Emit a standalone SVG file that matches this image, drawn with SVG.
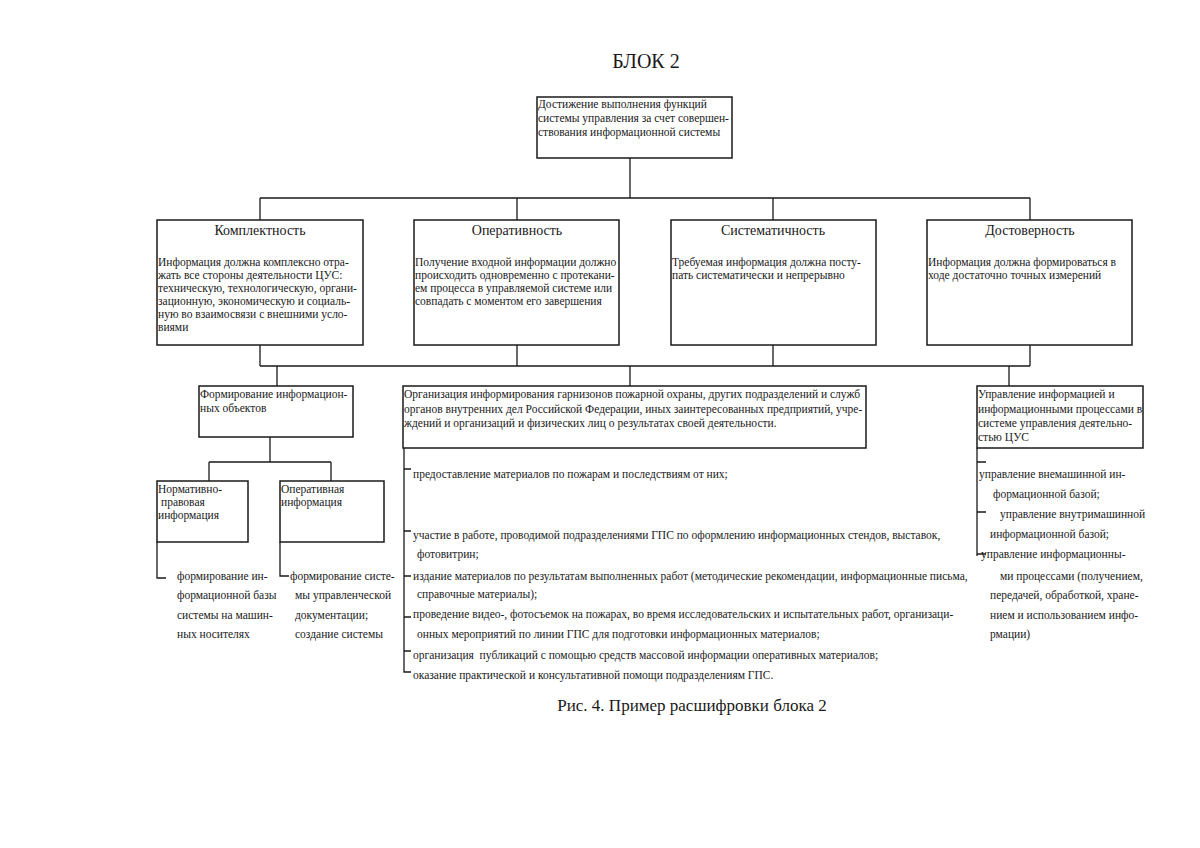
<svg xmlns="http://www.w3.org/2000/svg" width="1200" height="848" viewBox="0 0 1200 848">
<style>
.box{fill:#fff;stroke:#1a1a1a;stroke-width:1.5}
.ln{stroke:#1a1a1a;stroke-width:1.3;fill:none}
text{font-family:"Liberation Serif","Times New Roman",serif;fill:#1a1a1a}
.s{font-size:11.5px}
.l{font-size:11.5px}
.h{font-size:14px;text-anchor:middle}
</style>
<rect width="1200" height="848" fill="#fff"/>
<text x="646" y="68" style="font-size:20px;text-anchor:middle">БЛОК 2</text>

<g id="connectors">
<path class="ln" d="M630 158V198M260 198H1030M260 198V220M517 198V220M773 198V220M1030 198V220"/>
<path class="ln" d="M260 345V366M517 345V366M773 345V366M1030 345V366M260 366H1030M277 366V386M630 366V386M1009 366V386"/>
<path class="ln" d="M270 437V462M209 462H331M209 462V481M331 462V481"/>
<path class="ln" d="M157 542V578H166M280 542V576H289"/>
<path class="ln" d="M404 448V672H411M404 469H411M404 531H411M404 576H411M404 617H411M404 651H411"/>
<path class="ln" d="M977 448V556M977 462H986M977 512H986M977 554H986"/>
</g>

<g id="n-top">
<rect class="box" x="537" y="97" width="195" height="61"/>
<text class="s" x="538" y="108">Достижение выполнения функций</text>
<text class="s" x="538" y="122">системы управления за счет совершен-</text>
<text class="s" x="538" y="136">ствования информационной системы</text>
</g>

<g id="n-kompl">
<rect class="box" x="157" y="220" width="206" height="125"/>
<text class="h" x="260" y="235">Комплектность</text>
<text class="s" x="158" y="266">Информация должна комплексно отра-</text>
<text class="s" x="158" y="279">жать все стороны деятельности ЦУС:</text>
<text class="s" x="158" y="292">техническую, технологическую, органи-</text>
<text class="s" x="158" y="305">зационную, экономическую и социаль-</text>
<text class="s" x="158" y="318">ную во взаимосвязи с внешними усло-</text>
<text class="s" x="158" y="331">виями</text>
</g>

<g id="n-oper">
<rect class="box" x="414" y="220" width="205" height="125"/>
<text class="h" x="517" y="235">Оперативность</text>
<text class="s" x="415" y="266">Получение входной информации должно</text>
<text class="s" x="415" y="279">происходить одновременно с протекани-</text>
<text class="s" x="415" y="292">ем процесса в управляемой системе или</text>
<text class="s" x="415" y="305">совпадать с моментом его завершения</text>
</g>

<g id="n-sist">
<rect class="box" x="671" y="220" width="205" height="125"/>
<text class="h" x="773" y="235">Систематичность</text>
<text class="s" x="672" y="266">Требуемая информация должна посту-</text>
<text class="s" x="672" y="279">пать систематически и непрерывно</text>
</g>

<g id="n-dost">
<rect class="box" x="927" y="220" width="205" height="125"/>
<text class="h" x="1030" y="235">Достоверность</text>
<text class="s" x="928" y="266">Информация должна формироваться в</text>
<text class="s" x="928" y="279">ходе достаточно точных измерений</text>
</g>

<g id="n-form">
<rect class="box" x="199" y="386" width="154" height="51"/>
<text class="s" x="200" y="398">Формирование информацион-</text>
<text class="s" x="200" y="412">ных объектов</text>
</g>

<g id="n-norm">
<rect class="box" x="157" y="481" width="91" height="61"/>
<text class="s" x="158" y="493">Нормативно-</text>
<text class="s" x="161" y="506">правовая</text>
<text class="s" x="158" y="519">информация</text>
<text class="l" x="177" y="580">формирование ин-</text>
<text class="l" x="177" y="599">формационной базы</text>
<text class="l" x="177" y="619">системы на машин-</text>
<text class="l" x="177" y="638">ных носителях</text>
</g>

<g id="n-operinf">
<rect class="box" x="280" y="481" width="104" height="61"/>
<text class="s" x="281" y="493">Оперативная</text>
<text class="s" x="281" y="506">информация</text>
<text class="l" x="290" y="580">формирование систе-</text>
<text class="l" x="295" y="599">мы управленческой</text>
<text class="l" x="295" y="619">документации;</text>
<text class="l" x="295" y="638">создание системы</text>
</g>

<g id="n-org">
<rect class="box" x="403" y="386" width="463" height="62"/>
<text class="s" x="404" y="398">Организация информирования гарнизонов пожарной охраны, других подразделений и служб</text>
<text class="s" x="404" y="413">органов внутренних дел Российской Федерации, иных заинтересованных предприятий, учре-</text>
<text class="s" x="404" y="427">ждений и организаций и физических лиц о результатах своей деятельности.</text>
<text class="l" x="413" y="478">предоставление материалов по пожарам и последствиям от них;</text>
<text class="l" x="413" y="539">участие в работе, проводимой подразделениями ГПС по оформлению информационных стендов, выставок,</text>
<text class="l" x="417" y="558">фотовитрин;</text>
<text class="l" x="413" y="580">издание материалов по результатам выполненных работ (методические рекомендации, информационные письма,</text>
<text class="l" x="417" y="598">справочные материалы);</text>
<text class="l" x="413" y="618">проведение видео-, фотосъемок на пожарах, во время исследовательских и испытательных работ, организаци-</text>
<text class="l" x="417" y="638">онных мероприятий по линии ГПС для подготовки информационных материалов;</text>
<text class="l" x="413" y="659" xml:space="preserve">организация  публикаций с помощью средств массовой информации оперативных материалов;</text>
<text class="l" x="413" y="679">оказание практической и консультативной помощи подразделениям ГПС.</text>
</g>

<g id="n-upr">
<rect class="box" x="977" y="386" width="166" height="62"/>
<text class="s" x="978" y="398">Управление информацией и</text>
<text class="s" x="978" y="413">информационными процессами в</text>
<text class="s" x="978" y="427">системе управления деятельно-</text>
<text class="s" x="978" y="441">стью ЦУС</text>
<text class="l" x="979" y="478">управление внемашинной ин-</text>
<text class="l" x="993" y="498">формационной базой;</text>
<text class="l" x="1000" y="518">управление внутримашинной</text>
<text class="l" x="990" y="538">информационной базой;</text>
<text class="l" x="981" y="558">управление информационны-</text>
<text class="l" x="1000" y="580">ми процессами (получением,</text>
<text class="l" x="990" y="599">передачей, обработкой, хране-</text>
<text class="l" x="990" y="619">нием и использованием инфо-</text>
<text class="l" x="990" y="638">рмации)</text>
</g>

<text x="692" y="711" style="font-size:17px;text-anchor:middle">Рис. 4. Пример расшифровки блока 2</text>
</svg>
